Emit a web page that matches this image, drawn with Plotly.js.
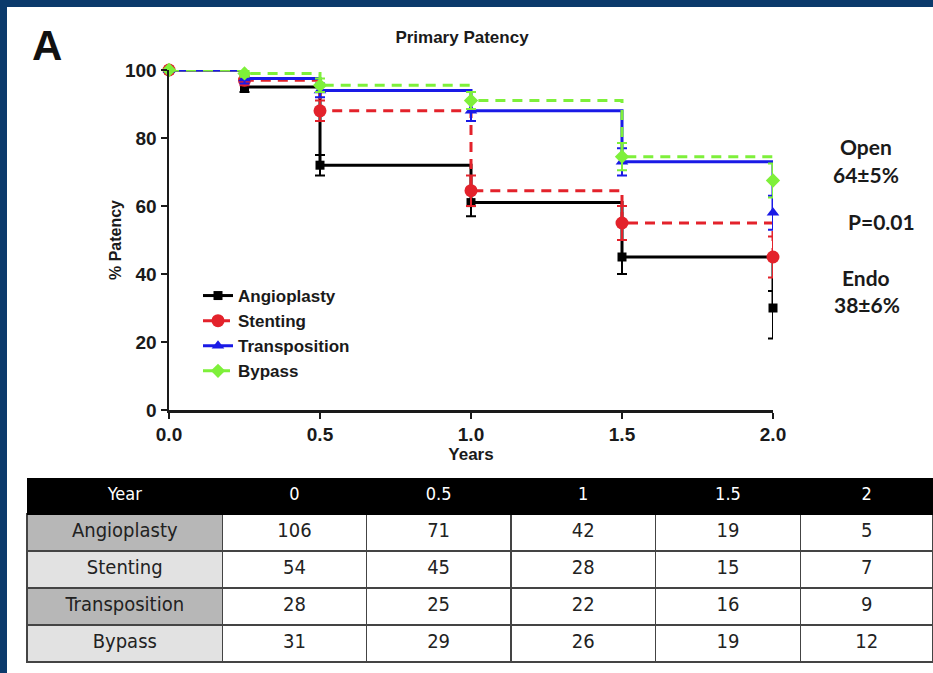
<!DOCTYPE html>
<html>
<head>
<meta charset="utf-8">
<script src="https://cdn.plot.ly/plotly-3.0.1.min.js"></script>
<style>
  html, body { margin: 0; padding: 0; background: #0b3a6b; }
  #chart { width: 933px; height: 673px; }
</style>
</head>
<body>
<div id="chart"></div>
<script>
// ---- Kaplan-Meier data (years, % patency) ----
const times = [0, 0.25, 0.5, 1.0, 1.5, 2.0];
const angioplasty = [100, 95, 72, 61, 45, 30];
const angioplastyErrPlus = [0, 1.5, 3, 4, 5, 5];
const angioplastyErrMinus = [0, 1.5, 3, 4, 5, 9];
const stenting = [100, 97, 88, 64.5, 55, 45];
const stentingErr = [0, 1.5, 3, 4.5, 5, 6];
const transposition = [100, 97.5, 94, 88, 73, 58];
const transpositionErr = [0, 1.5, 2, 3, 4, 5];
const bypass = [100, 99, 95.5, 91, 74.5, 67.5];
const bypassErr = [0, 1, 2, 2.5, 4, 5];

const seriesNames = ['Angioplasty', 'Stenting', 'Transposition', 'Bypass'];
const xTicks = [0, 0.5, 1.0, 1.5, 2.0];
const yTicks = [0, 20, 40, 60, 80, 100];

// ---- Numbers at risk table ----
const tableHeader = ['Year', '0', '0.5', '1', '1.5', '2'];
const riskYear0 = [106, 54, 28, 31];
const riskYear05 = [71, 45, 25, 29];
const riskYear1 = [42, 28, 22, 26];
const riskYear15 = [19, 15, 16, 19];
const riskYear2 = [5, 7, 9, 12];

// ---- Side notes ----
const noteTexts = ['Open', '64±5%', 'P=0.01', 'Endo', '38±6%'];

const W = 933, H = 673;
const px = v => v / W;
const py = v => 1 - v / H;

const colors = ['#000000', '#e3222b', '#1a1ae6', '#7ef03a'];
const symbols = ['square', 'circle', 'triangle-up', 'diamond'];
const sizes = [9, 13, 11, 11];
const dashes = ['solid', '10px,7px', 'solid', '10px,7px'];
const ys = [angioplasty, stenting, transposition, bypass];
const errsPlus = [angioplastyErrPlus, stentingErr, transpositionErr, bypassErr];
const errsMinus = [angioplastyErrMinus, stentingErr, transpositionErr, bypassErr];

const traces = seriesNames.map((name, i) => ({
  type: 'scatter',
  mode: 'lines+markers',
  name: name,
  x: times,
  y: ys[i],
  line: { shape: 'hv', color: colors[i], width: 3, dash: dashes[i] },
  marker: { symbol: symbols[i], size: sizes[i], color: colors[i] },
  error_y: { type: 'data', symmetric: false, array: errsPlus[i], arrayminus: errsMinus[i], visible: true, color: colors[i], thickness: 2, width: 5 },
  cliponaxis: false
}));

const fillFirst = ['#b7b7b7', '#e2e2e2', '#b7b7b7', '#e2e2e2'];
const white = ['#ffffff', '#ffffff', '#ffffff', '#ffffff'];

traces.push({
  type: 'table',
  domain: { x: [px(27), 1], y: [py(663), py(478)] },
  columnwidth: [196, 144, 145, 145, 145, 133],
  header: {
    values: tableHeader,
    height: 36,
    align: 'center',
    fill: { color: '#000000' },
    line: { color: '#000000', width: 1 },
    font: { family: 'Liberation Sans Narrow, DejaVu Sans Condensed, sans-serif', size: 18, color: '#ffffff' }
  },
  cells: {
    values: [seriesNames, riskYear0, riskYear05, riskYear1, riskYear15, riskYear2],
    height: 37,
    align: 'center',
    fill: { color: [fillFirst, white, white, white, white, white] },
    line: { color: '#444444', width: 1.5 },
    font: { family: 'Liberation Sans Narrow, DejaVu Sans Condensed, sans-serif', size: 20, color: '#222222' }
  }
});

const axisFont = { family: 'Liberation Sans, Arial, sans-serif', size: 19, color: '#1a1a1a', weight: 'bold' };

const layout = {
  width: W, height: H,
  margin: { l: 0, r: 0, t: 0, b: 0 },
  paper_bgcolor: '#0b3a6b',
  plot_bgcolor: '#ffffff',
  showlegend: true,
  title: {
    text: 'Primary Patency',
    font: { family: 'Liberation Sans, Arial, sans-serif', size: 17, color: '#1a1a1a', weight: 'bold' },
    x: px(462), xanchor: 'center', y: py(37), yanchor: 'middle', yref: 'container', xref: 'container'
  },
  xaxis: {
    domain: [px(169), px(773)],
    range: [0, 2],
    tickvals: xTicks,
    tickformat: '.1f',
    ticks: 'outside', ticklen: 6, tickwidth: 2, tickcolor: '#1a1a1a',
    showline: true, linecolor: '#1a1a1a', linewidth: 2.5,
    showgrid: false, zeroline: false,
    tickfont: axisFont,
    automargin: false,
    title: { text: 'Years', standoff: 2, font: { family: 'Liberation Sans, Arial, sans-serif', size: 17, color: '#1a1a1a', weight: 'bold' } }
  },
  yaxis: {
    domain: [py(410), py(70)],
    range: [0, 100],
    tickvals: yTicks,
    ticks: 'outside', ticklen: 6, tickwidth: 2, tickcolor: '#1a1a1a',
    showline: true, linecolor: '#1a1a1a', linewidth: 2.5,
    showgrid: false, zeroline: false,
    tickfont: axisFont,
    automargin: false,
    title: { text: '% Patency', standoff: 0, font: { family: 'Liberation Sans, Arial, sans-serif', size: 16, color: '#1a1a1a', weight: 'bold' } }
  },
  legend: {
    x: px(198), y: py(278), xanchor: 'left', yanchor: 'top',
    bgcolor: 'rgba(0,0,0,0)',
    font: { family: 'Liberation Sans, Arial, sans-serif', size: 17, color: '#1a1a1a', weight: 'bold' },
    tracegroupgap: 0, itemwidth: 30
  },
  shapes: [{
    type: 'rect', xref: 'paper', yref: 'paper', layer: 'below',
    x0: px(7), x1: 1, y0: 0, y1: py(7),
    fillcolor: '#ffffff', line: { width: 0 }
  }],
  annotations: [
    { text: 'A', xref: 'paper', yref: 'paper', x: px(47), y: py(46), xanchor: 'center', yanchor: 'middle', showarrow: false,
      font: { family: 'Liberation Sans, Arial, sans-serif', size: 42, color: '#111111', weight: 'bold' } },
    { text: noteTexts[0], xref: 'paper', yref: 'paper', x: px(866), y: py(146), xanchor: 'center', yanchor: 'middle', showarrow: false,
      font: { family: 'Lato, sans-serif', size: 21, color: '#1a1a1a', weight: 'bold' } },
    { text: noteTexts[1], xref: 'paper', yref: 'paper', x: px(866), y: py(175), xanchor: 'center', yanchor: 'middle', showarrow: false,
      font: { family: 'Lato, sans-serif', size: 21, color: '#1a1a1a', weight: 'bold' } },
    { text: noteTexts[2], xref: 'paper', yref: 'paper', x: px(881), y: py(222), xanchor: 'center', yanchor: 'middle', showarrow: false,
      font: { family: 'Lato, sans-serif', size: 21, color: '#1a1a1a', weight: 'bold' } },
    { text: noteTexts[3], xref: 'paper', yref: 'paper', x: px(866), y: py(277), xanchor: 'center', yanchor: 'middle', showarrow: false,
      font: { family: 'Lato, sans-serif', size: 21, color: '#1a1a1a', weight: 'bold' } },
    { text: noteTexts[4], xref: 'paper', yref: 'paper', x: px(867), y: py(305), xanchor: 'center', yanchor: 'middle', showarrow: false,
      font: { family: 'Lato, sans-serif', size: 21, color: '#1a1a1a', weight: 'bold' } }
  ]
};

Plotly.newPlot('chart', traces, layout, { displayModeBar: false, staticPlot: true });
</script>
</body>
</html>
